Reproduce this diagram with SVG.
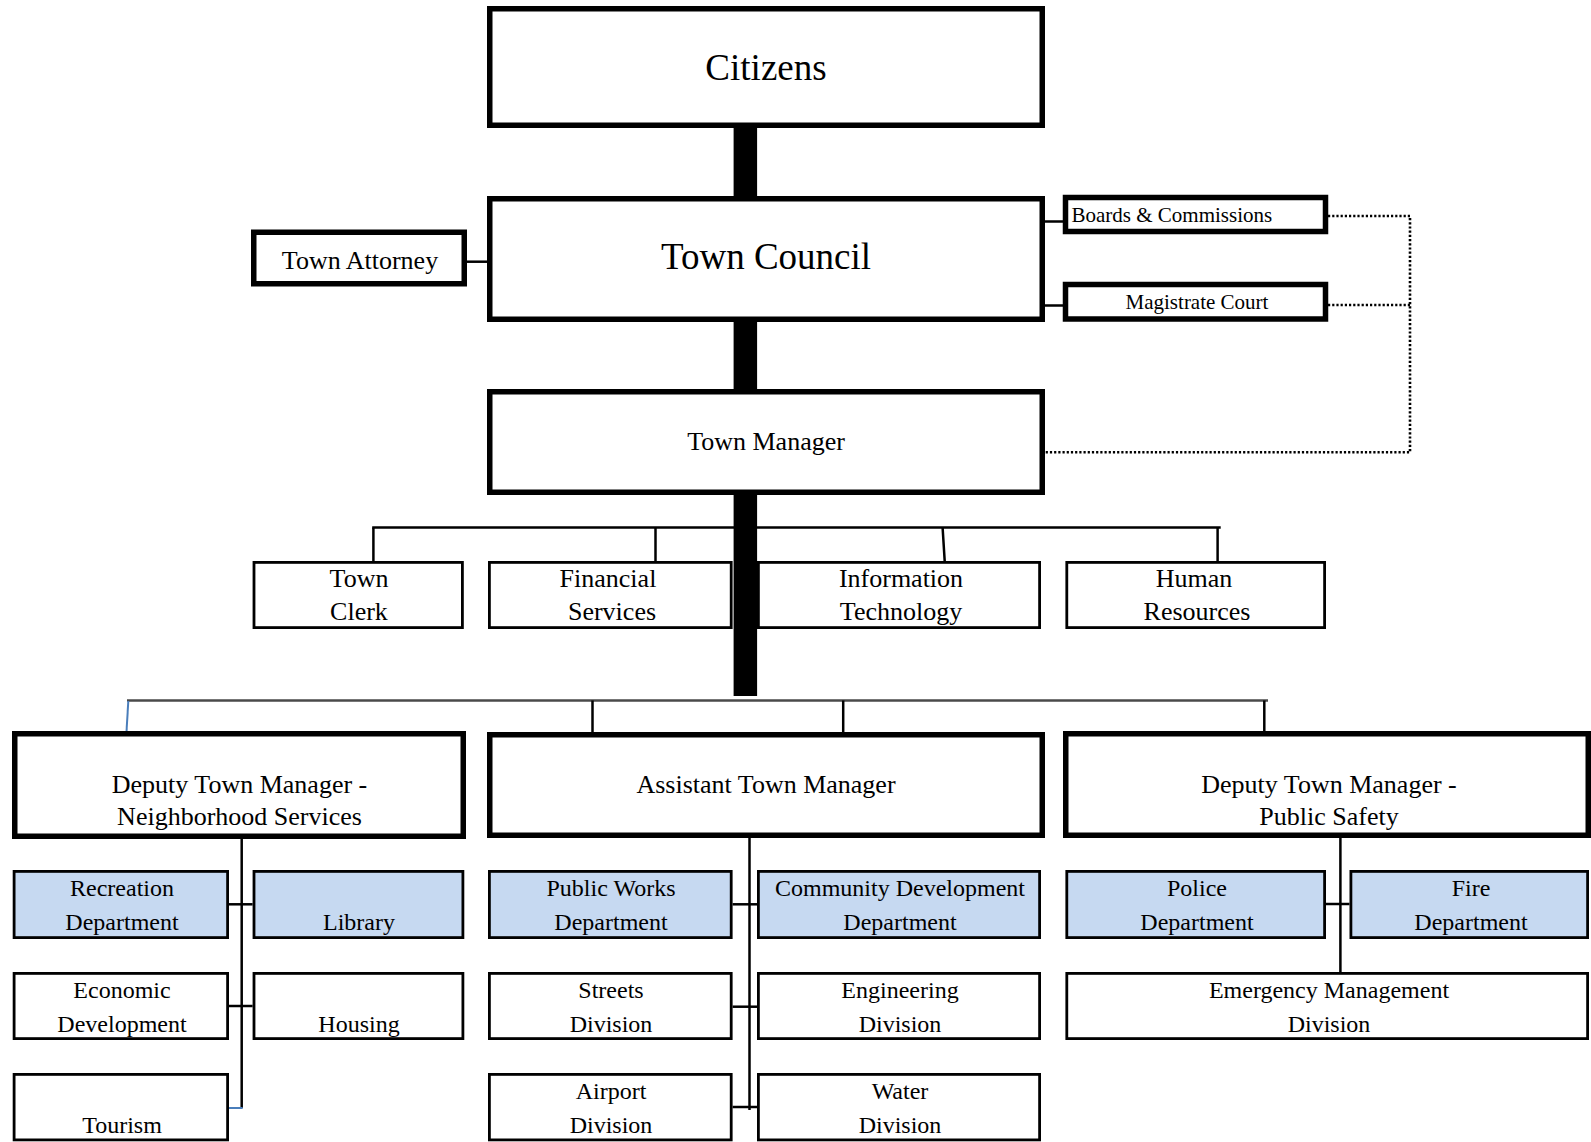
<svg xmlns="http://www.w3.org/2000/svg" width="1591" height="1142" viewBox="0 0 1591 1142">
<style>
text{font-family:"Liberation Serif","Times New Roman",serif;fill:#000;text-anchor:middle}
.thick{fill:#fff;stroke:#000;stroke-width:5.5}
.thin{fill:#fff;stroke:#000;stroke-width:2.8}
.blue{fill:#C6D9F1;stroke:#000;stroke-width:2.8}
.ln{stroke:#000;stroke-width:2.5;fill:none}
.gl{stroke:#4a4a4a;stroke-width:2.5;fill:none}
.bl{stroke:#4a7ebb;stroke-width:2;fill:none}
.dot{stroke:#000;stroke-width:2.6;stroke-dasharray:2.2 2;fill:none}
.f37{font-size:37px}.f26{font-size:26px}.f24{font-size:24px}.f21{font-size:21px}
</style>
<rect width="1591" height="1142" fill="#fff"/>
<g id="connectors">
<rect x="733.6" y="126" width="23.5" height="72" fill="#000"/>
<rect x="733.6" y="319" width="23.5" height="72" fill="#000"/>
<rect x="733.6" y="493" width="23.5" height="203" fill="#000"/>
<line class="ln" x1="466" y1="261.7" x2="488" y2="261.7"/>
<line class="ln" x1="1044" y1="221.5" x2="1063" y2="221.5"/>
<line class="ln" x1="1044" y1="305.5" x2="1063" y2="305.5"/>
<polyline class="dot" points="1328,216 1410,216 1410,452.3 1045,452.3"/>
<line class="dot" x1="1328" y1="305" x2="1410" y2="305"/>
<line class="ln" x1="372.2" y1="527.6" x2="1220.7" y2="527.6"/>
<line class="ln" x1="373.4" y1="527.6" x2="373.4" y2="561"/>
<line class="ln" x1="655.5" y1="527.6" x2="655.5" y2="561"/>
<line class="ln" x1="942.6" y1="527.6" x2="944.7" y2="561"/>
<line class="ln" x1="1217.6" y1="527.6" x2="1217.6" y2="561"/>
<line class="gl" x1="127" y1="700.5" x2="1268" y2="700.5"/>
<line class="bl" x1="128.3" y1="701" x2="126.5" y2="732"/>
<line class="ln" x1="592.5" y1="700.5" x2="592.5" y2="732"/>
<line class="ln" x1="843.2" y1="700.5" x2="843.2" y2="732"/>
<line class="ln" x1="1264.3" y1="700.5" x2="1264.3" y2="732"/>
<line class="ln" x1="241.7" y1="838" x2="241.7" y2="1108"/>
<line class="ln" x1="229" y1="904.3" x2="252.6" y2="904.3"/>
<line class="ln" x1="229" y1="1006" x2="252.6" y2="1006"/>
<line class="bl" x1="229" y1="1108" x2="242.7" y2="1108"/>
<line class="ln" x1="749.5" y1="838" x2="749.5" y2="1110"/>
<line class="ln" x1="732.6" y1="904.3" x2="757" y2="904.3"/>
<line class="ln" x1="732.6" y1="1006.7" x2="757" y2="1006.7"/>
<line class="ln" x1="732.6" y1="1107" x2="757" y2="1107"/>
<line class="ln" x1="1340.4" y1="838" x2="1340.4" y2="972"/>
<line class="ln" x1="1326" y1="904" x2="1349.5" y2="904"/>
</g>
<g id="citizens"><rect class="thick" x="489.75" y="8.75" width="552.5" height="116.5"/><text class="f37" x="766" y="80">Citizens</text></g>
<g id="town-council"><rect class="thick" x="489.75" y="198.75" width="552.5" height="120.5"/><text class="f37" x="766" y="269">Town Council</text></g>
<g id="town-attorney"><rect class="thick" x="253.75" y="232.25" width="210.5" height="51.5"/><text class="f26" x="360" y="268.5">Town Attorney</text></g>
<g id="boards-commissions"><rect class="thick" x="1065.5" y="197.5" width="260" height="34"/><text class="f21" x="1071.5" y="221.7" style="text-anchor:start">Boards &amp; Commissions</text></g>
<g id="magistrate-court"><rect class="thick" x="1065.5" y="284.5" width="260" height="34.5"/><text class="f21" x="1197" y="309.3">Magistrate Court</text></g>
<g id="town-manager"><rect class="thick" x="489.75" y="391.75" width="552.5" height="100.5"/><text class="f26" x="766" y="449.5">Town Manager</text></g>
<g id="town-clerk"><rect class="thin" x="254" y="562.4" width="208.4" height="65.2"/><text class="f26" x="359" y="586.5">Town</text><text class="f26" x="359" y="620">Clerk</text></g>
<g id="financial-services"><rect class="thin" x="489.4" y="562.4" width="241.8" height="65.2"/><text class="f26" x="608" y="586.5">Financial</text><text class="f26" x="612" y="620">Services</text></g>
<g id="information-technology"><rect class="thin" x="758.4" y="562.4" width="281.2" height="65.2"/><text class="f26" x="901" y="586.5">Information</text><text class="f26" x="901" y="620">Technology</text></g>
<g id="human-resources"><rect class="thin" x="1066.8" y="562.4" width="257.8" height="65.2"/><text class="f26" x="1194" y="586.5">Human</text><text class="f26" x="1197" y="620">Resources</text></g>
<g id="dtm-neighborhood"><rect class="thick" x="14.75" y="733.75" width="448.5" height="102.5"/><text class="f26" x="239.5" y="792.5">Deputy Town Manager -</text><text class="f26" x="239.5" y="825">Neighborhood Services</text></g>
<g id="assistant-town-manager"><rect class="thick" x="489.75" y="734.75" width="552.5" height="100.5"/><text class="f26" x="766" y="792.5">Assistant Town Manager</text></g>
<g id="dtm-public-safety"><rect class="thick" x="1065.75" y="733.75" width="522.5" height="101.5"/><text class="f26" x="1329" y="792.5">Deputy Town Manager -</text><text class="f26" x="1329" y="825">Public Safety</text></g>
<g id="recreation"><rect class="blue" x="14.1" y="871.4" width="213.5" height="66.2"/><text class="f24" x="122" y="896">Recreation</text><text class="f24" x="122" y="930">Department</text></g>
<g id="library"><rect class="blue" x="254" y="871.4" width="208.9" height="66.2"/><text class="f24" x="359" y="930">Library</text></g>
<g id="public-works"><rect class="blue" x="489.4" y="871.4" width="241.8" height="66.2"/><text class="f24" x="611" y="896">Public Works</text><text class="f24" x="611" y="930">Department</text></g>
<g id="community-development"><rect class="blue" x="758.4" y="871.4" width="281.2" height="66.2"/><text class="f24" x="900" y="896">Community Development</text><text class="f24" x="900" y="930">Department</text></g>
<g id="police"><rect class="blue" x="1066.8" y="871.4" width="257.8" height="66.2"/><text class="f24" x="1197" y="896">Police</text><text class="f24" x="1197" y="930">Department</text></g>
<g id="fire"><rect class="blue" x="1350.9" y="871.4" width="236.7" height="66.2"/><text class="f24" x="1471" y="896">Fire</text><text class="f24" x="1471" y="930">Department</text></g>
<g id="economic-development"><rect class="thin" x="14.1" y="973.4" width="213.5" height="65.2"/><text class="f24" x="122" y="998">Economic</text><text class="f24" x="122" y="1032">Development</text></g>
<g id="housing"><rect class="thin" x="254" y="973.4" width="208.9" height="65.2"/><text class="f24" x="359" y="1032">Housing</text></g>
<g id="streets"><rect class="thin" x="489.4" y="973.4" width="241.8" height="65.2"/><text class="f24" x="611" y="998">Streets</text><text class="f24" x="611" y="1032">Division</text></g>
<g id="engineering"><rect class="thin" x="758.4" y="973.4" width="281.2" height="65.2"/><text class="f24" x="900" y="998">Engineering</text><text class="f24" x="900" y="1032">Division</text></g>
<g id="emergency-management"><rect class="thin" x="1066.8" y="973.4" width="520.8" height="65.2"/><text class="f24" x="1329" y="998">Emergency Management</text><text class="f24" x="1329" y="1032">Division</text></g>
<g id="tourism"><rect class="thin" x="14.1" y="1074.4" width="213.5" height="65.5"/><text class="f24" x="122" y="1133">Tourism</text></g>
<g id="airport"><rect class="thin" x="489.4" y="1074.4" width="241.8" height="65.5"/><text class="f24" x="611" y="1099">Airport</text><text class="f24" x="611" y="1133">Division</text></g>
<g id="water"><rect class="thin" x="758.4" y="1074.4" width="281.2" height="65.5"/><text class="f24" x="900" y="1099">Water</text><text class="f24" x="900" y="1133">Division</text></g>
</svg>
